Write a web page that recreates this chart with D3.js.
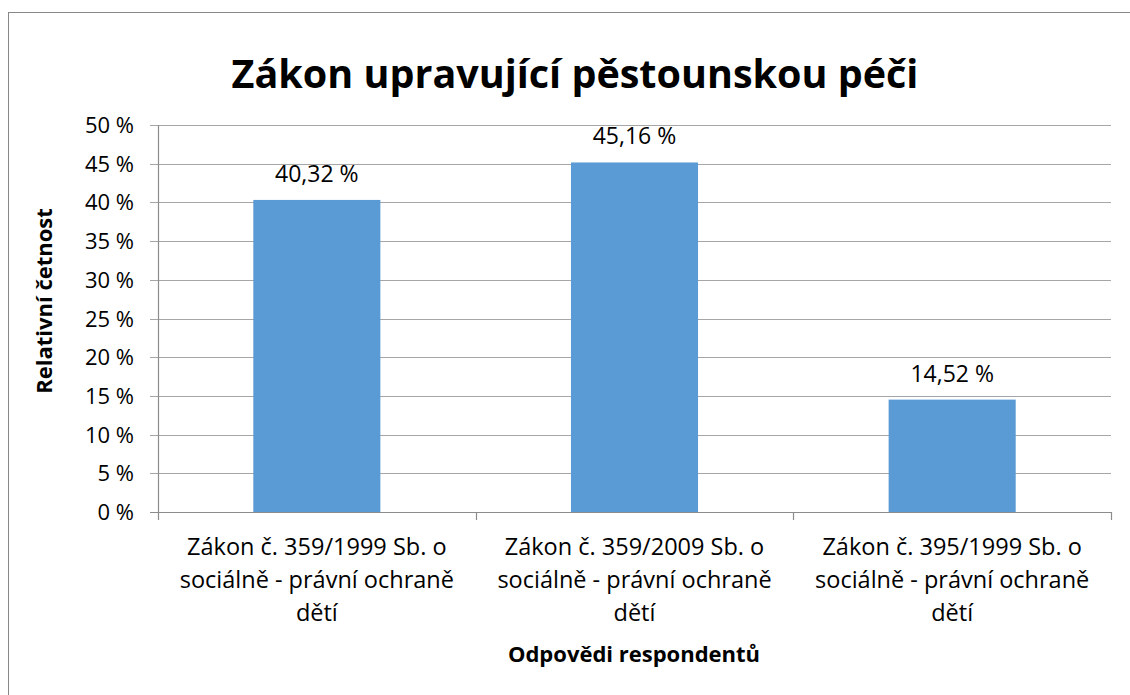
<!DOCTYPE html>
<html lang="cs">
<head>
<meta charset="utf-8">
<title>Zákon upravující pěstounskou péči</title>
<script src="https://cdn.jsdelivr.net/npm/d3@7"></script>
<style>
  body { margin: 0; background: #fff; }
  text { font-family: "Open Sans", "Noto Sans", sans-serif; fill: #000; }
</style>
</head>
<body>
<script>
// data
var categories = [
  ["Zákon č. 359/1999 Sb. o", "sociálně - právní ochraně", "dětí"],
  ["Zákon č. 359/2009 Sb. o", "sociálně - právní ochraně", "dětí"],
  ["Zákon č. 395/1999 Sb. o", "sociálně - právní ochraně", "dětí"]
];
var values = [40.32, 45.16, 14.52];
var yTicks = [0, 5, 10, 15, 20, 25, 30, 35, 40, 45, 50];

var w = 1130, h = 695;
var plotL = 158, plotR = 1111, plotT = 125, plotB = 512;

var svg = d3.select("body").append("svg")
  .attr("width", w).attr("height", h);

// outer frame
svg.append("rect")
  .attr("x", 8.5).attr("y", 12.5)
  .attr("width", w).attr("height", h)
  .attr("fill", "#fff")
  .attr("stroke", "#888").attr("stroke-width", 1);

var x = d3.scaleBand()
  .domain(d3.range(categories.length))
  .range([plotL, plotR])
  .paddingInner(0.6).paddingOuter(0.3);

var y = d3.scaleLinear().domain([0, 50]).range([plotB, plotT]);

// gridlines
svg.selectAll("line.grid")
  .data(yTicks)
  .enter().append("line")
  .attr("class", "grid")
  .attr("x1", plotL - 8).attr("x2", plotR)
  .attr("y1", function(d) { return Math.round(y(d)) + 0.5; })
  .attr("y2", function(d) { return Math.round(y(d)) + 0.5; })
  .attr("stroke", function(d) { return d == 0 ? "#8c8c8c" : "#a6a6a6"; })
  .attr("stroke-width", 1.2);

// y tick labels
svg.selectAll("text.ytick")
  .data(yTicks)
  .enter().append("text")
  .attr("class", "ytick")
  .attr("x", 134)
  .attr("y", function(d) { return y(d) + 8; })
  .attr("text-anchor", "end")
  .attr("font-size", "22px")
  .text(function(d) { return d + " %"; });

// y axis line
svg.append("line")
  .attr("x1", plotL + 0.5).attr("x2", plotL + 0.5)
  .attr("y1", plotT).attr("y2", plotB)
  .attr("stroke", "#8c8c8c").attr("stroke-width", 1.2);

// category tick marks
var band = (plotR - plotL) / categories.length;
svg.selectAll("line.xtick")
  .data(d3.range(categories.length + 1))
  .enter().append("line")
  .attr("class", "xtick")
  .attr("x1", function(d) { return Math.round(plotL + d * band) + 0.5; })
  .attr("x2", function(d) { return Math.round(plotL + d * band) + 0.5; })
  .attr("y1", plotB).attr("y2", plotB + 8)
  .attr("stroke", "#8c8c8c").attr("stroke-width", 1.2);

// bars
svg.selectAll("rect.bar")
  .data(values)
  .enter().append("rect")
  .attr("class", "bar")
  .attr("x", function(d, i) { return x(i); })
  .attr("y", function(d) { return y(d); })
  .attr("width", x.bandwidth())
  .attr("height", function(d) { return plotB - y(d); })
  .attr("fill", "#5b9bd5");

// value labels
svg.selectAll("text.val")
  .data(values)
  .enter().append("text")
  .attr("class", "val")
  .attr("x", function(d, i) { return x(i) + x.bandwidth() / 2; })
  .attr("y", function(d) { return y(d) - 18; })
  .attr("text-anchor", "middle")
  .attr("font-size", "23px")
  .text(function(d) { return d.toFixed(2).replace(".", ",") + " %"; });

// category labels
var cat = svg.selectAll("text.cat")
  .data(categories)
  .enter().append("text")
  .attr("class", "cat")
  .attr("text-anchor", "middle")
  .attr("font-size", "23.5px");
cat.selectAll("tspan")
  .data(function(d, i) { return d.map(function(s) { return { s: s, i: i }; }); })
  .enter().append("tspan")
  .attr("x", function(d) { return x(d.i) + x.bandwidth() / 2; })
  .attr("y", function(d, j) { return 555 + j * 33; })
  .text(function(d) { return d.s; });

// title
svg.append("text")
  .attr("x", 575).attr("y", 88)
  .attr("text-anchor", "middle")
  .attr("font-size", "39.5px")
  .attr("font-weight", "bold")
  .text("Zákon upravující pěstounskou péči");

// axis titles
svg.append("text")
  .attr("x", 634).attr("y", 662)
  .attr("text-anchor", "middle")
  .attr("font-size", "22px")
  .attr("font-weight", "bold")
  .text("Odpovědi respondentů");

svg.append("text")
  .attr("transform", "translate(52,301) rotate(-90)")
  .attr("text-anchor", "middle")
  .attr("font-size", "22px")
  .attr("font-weight", "bold")
  .text("Relativní četnost");
</script>
</body>
</html>
